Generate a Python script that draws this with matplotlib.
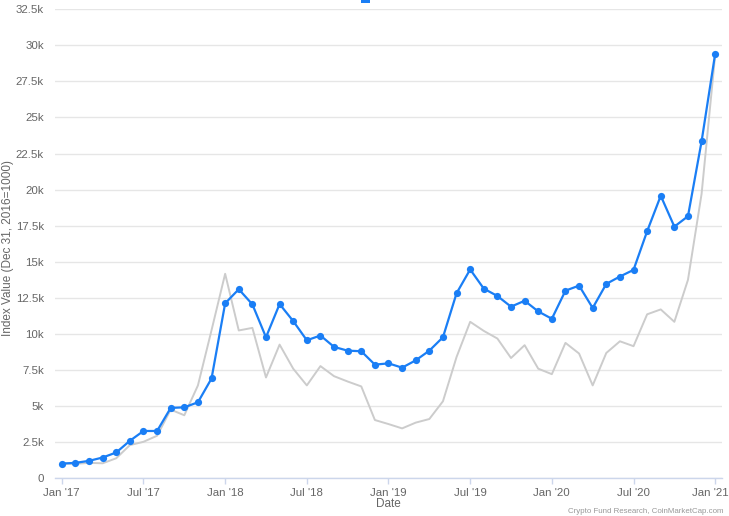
import matplotlib
matplotlib.use("Agg")
import matplotlib.pyplot as plt
import matplotlib.transforms as mtransforms
from matplotlib.patches import Rectangle

plt.rcParams["font.family"] = ["Liberation Sans", "DejaVu Sans"]

months = list(range(49))
tick_labels = ["Jan '17", "Jul '17", "Jan '18", "Jul '18", "Jan '19",
               "Jul '19", "Jan '20", "Jul '20", "Jan '21"]

fund_index = [1000, 1050, 1190, 1420, 1770, 2580, 3260, 3260, 4860, 4900, 5250, 6900,
              12110, 13090, 12040, 9760, 12060, 10880, 9550, 9880, 9090, 8830, 8790, 7860,
              7950, 7650, 8160, 8830, 9760, 12810, 14460, 13130, 12620, 11880, 12290, 11550,
              11040, 12990, 13340, 11790, 13460, 13970, 14430, 17110, 19570, 17430, 18150, 23340,
              29430]

bitcoin_index = [1000, 980, 1050, 1020, 1370, 2280, 2510, 2930, 4740, 4350, 6420, 10250,
                 14160, 10230, 10410, 6970, 9250, 7580, 6420, 7760, 7060, 6690, 6350, 4020,
                 3740, 3440, 3840, 4090, 5320, 8390, 10830, 10200, 9670, 8320, 9210, 7580,
                 7200, 9370, 8630, 6420, 8670, 9480, 9140, 11350, 11690, 10830, 13740, 19700,
                 29350]

y_ticks = [0, 2500, 5000, 7500, 10000, 12500, 15000, 17500, 20000, 22500, 25000, 27500, 30000, 32500]
y_tick_labels = ["0", "2.5k", "5k", "7.5k", "10k", "12.5k", "15k", "17.5k", "20k",
                 "22.5k", "25k", "27.5k", "30k", "32.5k"]

blue = "#1a7ef5"
grey = "#cccccc"
txt = "#666666"

fig = plt.figure(figsize=(7.29, 5.16), dpi=100)
ax = fig.add_axes([55/729, 1 - 478/516, (722-55)/729, (478-9.3)/516])

ax.plot(months, bitcoin_index, color=grey, lw=1.4, zorder=2)
ax.plot(months, fund_index, color=blue, lw=1.6, marker="o", markersize=5.2,
        markeredgewidth=0, zorder=3)

ax.set_xlim(-0.5, 48.5)
ax.set_ylim(0, 32500)
ax.set_yticks(y_ticks)
ax.set_yticklabels(y_tick_labels)
ax.set_xticks(months[::6])
ax.set_xticklabels(tick_labels)

ax.grid(axis="y", color="#e6e6e6", lw=1)
ax.set_axisbelow(True)
for s in ["top", "right", "left"]:
    ax.spines[s].set_visible(False)
ax.spines["bottom"].set_color("#ccd6eb")
ax.spines["bottom"].set_linewidth(1)

ax.tick_params(axis="y", length=0, pad=8, labelsize=8.25, labelcolor=txt)
ax.tick_params(axis="x", length=4.5, width=1, color="#ccd6eb", pad=2.5, labelsize=8.25, labelcolor=txt)

last = ax.get_xticklabels()[-1]
last.set_transform(last.get_transform() + mtransforms.ScaledTranslation(-5/100, 0, fig.dpi_scale_trans))

ax.set_xlabel("Date", fontsize=8.5, color=txt, va="center")
ax.xaxis.set_label_coords(0.5, (478 - 504) / 468.7)
ax.set_ylabel("Index Value (Dec 31, 2016=1000)", fontsize=8.5, color=txt, va="center")
ax.yaxis.set_label_coords((8.3 - 55) / 667, (478 - 248) / 468.7)

fig.patches.append(Rectangle((361/729, 1 - 3/516), 9/729, 3/516, transform=fig.transFigure,
                             facecolor=blue, edgecolor="none"))
fig.text(723/729, 1 - 515/516, "Crypto Fund Research, CoinMarketCap.com", ha="right", va="bottom",
         fontsize=5.7, color="#999999")

fig.savefig("out.png", dpi=100)
